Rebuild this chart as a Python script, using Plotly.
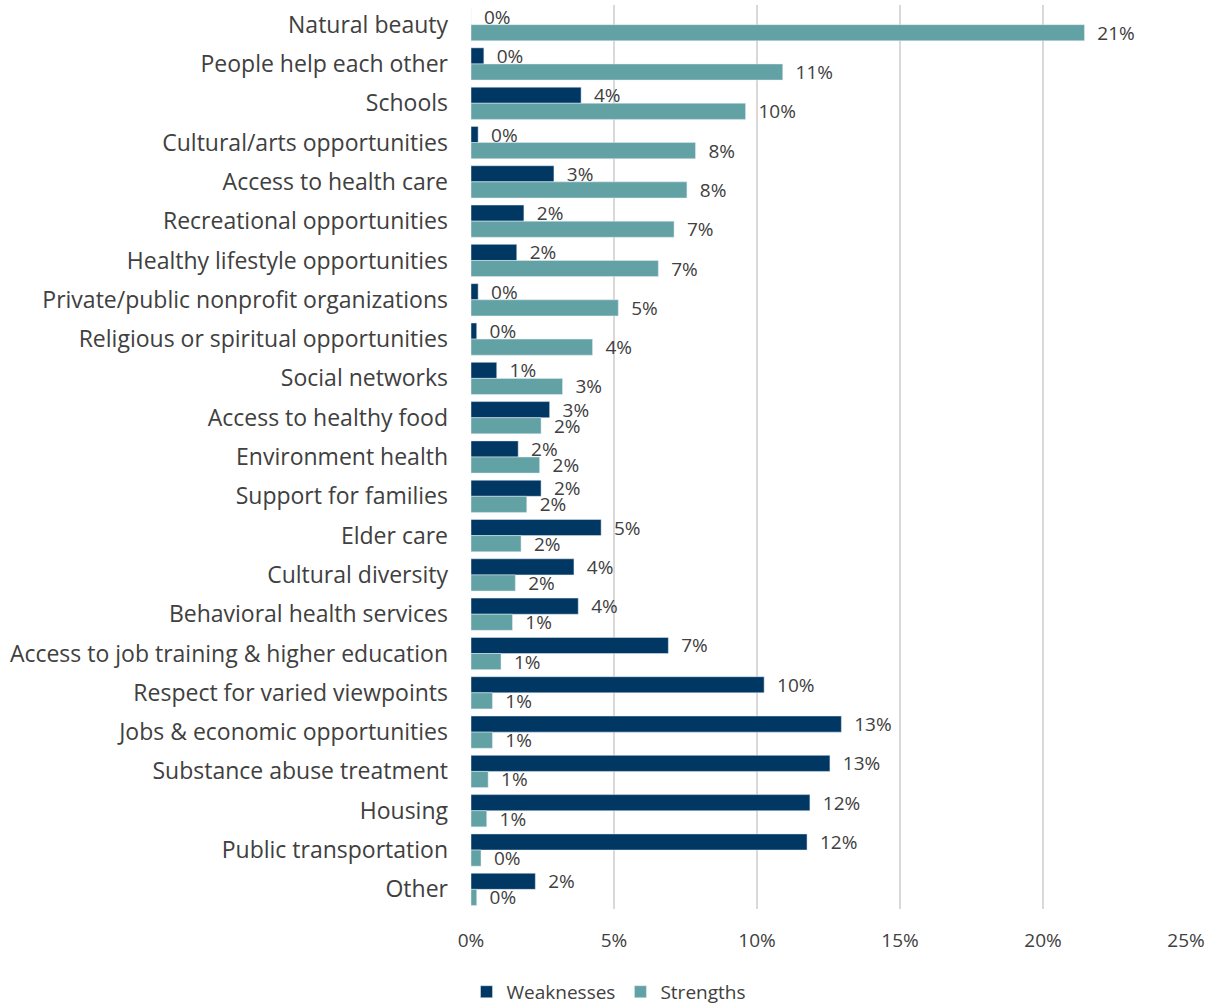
import plotly.graph_objects as go

categories = [
    "Natural beauty", "People help each other", "Schools", "Cultural/arts opportunities",
    "Access to health care", "Recreational opportunities", "Healthy lifestyle opportunities",
    "Private/public nonprofit organizations", "Religious or spiritual opportunities",
    "Social networks", "Access to healthy food", "Environment health", "Support for families",
    "Elder care", "Cultural diversity", "Behavioral health services",
    "Access to job training & higher education", "Respect for varied viewpoints",
    "Jobs & economic opportunities", "Substance abuse treatment", "Housing",
    "Public transportation", "Other",
]
weaknesses = [0.000, 0.0045, 0.0385, 0.0025, 0.029, 0.0185, 0.016, 0.0025, 0.002,
              0.009, 0.0275, 0.0165, 0.0245, 0.0455, 0.036, 0.0375, 0.069, 0.1025,
              0.1295, 0.1255, 0.1185, 0.1175, 0.0225]
strengths = [0.2145, 0.109, 0.096, 0.0785, 0.0755, 0.071, 0.0655, 0.0515, 0.0425,
             0.032, 0.0245, 0.024, 0.0195, 0.0175, 0.0155, 0.0145, 0.0105, 0.0075,
             0.0075, 0.006, 0.0055, 0.0035, 0.002]
x_ticks = [0, 0.05, 0.10, 0.15, 0.20, 0.25]
x_tick_labels = ["0%", "5%", "10%", "15%", "20%", "25%"]

FONT = "'Open Sans', Lato, sans-serif"
PAD = "\u00a0\u00a0"

fig = go.Figure()
fig.add_trace(go.Bar(
    y=categories, x=weaknesses, name="Weaknesses", orientation="h",
    marker=dict(color="#003763"),
    texttemplate=PAD + "%{x:.0%}", textposition="outside", cliponaxis=False,
    constraintext="none",
    textfont=dict(size=19, color="#404040", family=FONT),
))
fig.add_trace(go.Bar(
    y=categories, x=strengths, name="Strengths", orientation="h",
    marker=dict(color="#62A1A4"),
    texttemplate=PAD + "%{x:.0%}", textposition="outside", cliponaxis=False,
    constraintext="none",
    textfont=dict(size=19, color="#404040", family=FONT),
))

fig.update_layout(
    width=1217, height=1008,
    margin=dict(l=471, r=31, t=5, b=99, autoexpand=False),
    barmode="group", bargap=0.18, bargroupgap=0,
    plot_bgcolor="white", paper_bgcolor="white",
    font=dict(family=FONT, color="#404040", size=20),
    showlegend=True,
    legend=dict(orientation="h", xref="container", yref="container",
                x=0.5, xanchor="center", y=0.016, yanchor="middle",
                font=dict(size=19, color="#404040"), traceorder="normal",
                itemwidth=30),
    uniformtext=dict(mode=False),
)
fig.update_xaxes(range=[0, 0.25], tickvals=x_ticks, ticktext=x_tick_labels,
                 showgrid=True, gridcolor="#D9D9D9", gridwidth=2, zeroline=False,
                 showline=False, tickfont=dict(size=19, color="#404040"),
                 ticklabelstandoff=18, automargin=False)
fig.update_yaxes(autorange="reversed", showgrid=False, showline=False,
                 tickfont=dict(size=23, color="#404040"), ticklabelstandoff=22,
                 automargin=False)

fig.write_html("out.html", config={"displayModeBar": False},
               post_script="document.body.style.margin='0';document.body.style.overflow='hidden';")
